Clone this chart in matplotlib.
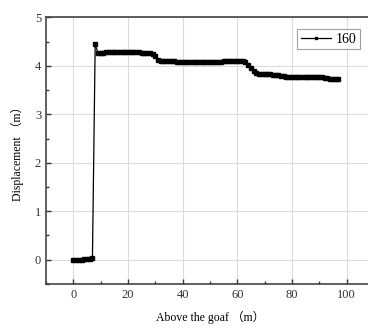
import matplotlib
matplotlib.use("Agg")
import matplotlib.pyplot as plt
from matplotlib.ticker import MultipleLocator

plt.rcParams['font.family'] = ['Liberation Serif', 'Noto Sans CJK SC']

# distance above the goaf (m) and displacement (m)
x_pos = list(range(0, 98))
disp = [
    0.00, 0.00, 0.00, 0.00, 0.005, 0.01, 0.02, 0.04, 4.45, 4.27,
    4.27, 4.27, 4.28, 4.28, 4.28, 4.28, 4.28, 4.28, 4.28, 4.28,
    4.28, 4.28, 4.28, 4.28, 4.28, 4.27, 4.27, 4.27, 4.27, 4.25,
    4.20, 4.13, 4.11, 4.10, 4.10, 4.10, 4.10, 4.10, 4.09, 4.09,
    4.09, 4.09, 4.09, 4.09, 4.09, 4.09, 4.09, 4.09, 4.09, 4.09,
    4.09, 4.09, 4.09, 4.09, 4.09, 4.10, 4.10, 4.10, 4.10, 4.10,
    4.10, 4.10, 4.10, 4.07, 4.02, 3.96, 3.89, 3.85, 3.84, 3.84,
    3.84, 3.83, 3.83, 3.82, 3.82, 3.81, 3.80, 3.79, 3.78, 3.77,
    3.77, 3.77, 3.77, 3.77, 3.77, 3.77, 3.77, 3.77, 3.77, 3.77,
    3.77, 3.77, 3.76, 3.74, 3.73, 3.73, 3.72, 3.72,
]
series_label = "160"

fig = plt.figure(figsize=(3.68, 3.29), dpi=100)
ax = fig.add_axes([0.125, 0.137, 0.891, 0.81])

ax.plot(x_pos, disp, "s-", color="black", lw=0.9, ms=2.4, label=series_label)

ax.set_xlim(-10, 110)
ax.set_ylim(-0.5, 5)
ax.xaxis.set_major_locator(MultipleLocator(20))
ax.xaxis.set_minor_locator(MultipleLocator(10))
ax.yaxis.set_major_locator(MultipleLocator(1))
ax.yaxis.set_minor_locator(MultipleLocator(0.5))
ax.grid(True, which="major", color="#dcdcdc", lw=0.8)
ax.set_axisbelow(True)
ax.tick_params(which="both", direction="in", labelsize=9, colors="#333333")
ax.tick_params(which="major", length=3.5, width=1)
ax.tick_params(which="minor", length=2, width=1)
for s in ax.spines.values():
    s.set_linewidth(1.2)
    s.set_color("#444444")

ax.set_xlabel("Above the goaf （m）", fontsize=8.5, labelpad=7)
ax.set_ylabel("Displacement （m）", fontsize=8.5, labelpad=8)

leg = ax.legend(loc="upper right", bbox_to_anchor=(0.957, 0.955), fontsize=10,
                fancybox=False, handlelength=2.2, handletextpad=0.3,
                borderpad=0.25, borderaxespad=0.0, markerscale=0.8)
leg.get_frame().set_edgecolor("#888888")
leg.get_frame().set_linewidth(0.8)

fig.savefig("out.png", dpi=100)
